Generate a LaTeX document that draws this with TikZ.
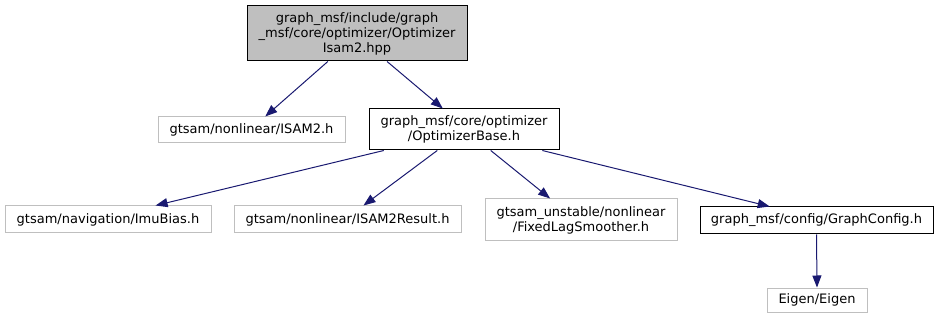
\documentclass[tikz,border=0pt]{standalone}
\usepackage{fontspec}
\setmainfont{DejaVu Sans}
\usetikzlibrary{calc,arrows.meta}
\definecolor{edgeblue}{HTML}{191970}
\definecolor{litegray}{HTML}{BFBFBF}
\definecolor{fillgray}{HTML}{BFBFBF}
\tikzset{
  file/.style={draw, line width=1pt, inner sep=0pt, align=center,
    font=\fontsize{13}{15}\selectfont},
  extfile/.style={file, draw=litegray},
  curfile/.style={file, draw=black, fill=fillgray},
  dep/.style={draw=edgeblue, line width=1pt,
    -{Triangle[length=12pt,width=9pt,fill=edgeblue]}},
}
\begin{document}
\begin{tikzpicture}[x=1pt,y=-1pt]
\useasboundingbox (0,0) rectangle (939,320);
\node[curfile, minimum width=220pt, minimum height=55pt] (top) at (357,33.5)
  {graph\_msf/include/graph\\\_msf/core/optimizer/Optimizer\\Isam2.hpp};
\node[extfile, minimum width=187pt, minimum height=26pt] (isam) at (251.5,130)
  {gtsam/nonlinear/ISAM2.h};
\node[file, minimum width=190pt, minimum height=41pt] (base) at (464,129.5)
  {graph\_msf/core/optimizer\\/OptimizerBase.h};
\node[extfile, minimum width=206pt, minimum height=27pt] (imu) at (108,219.5)
  {gtsam/navigation/ImuBias.h};
\node[extfile, minimum width=227pt, minimum height=27pt] (res) at (347.5,219.5)
  {gtsam/nonlinear/ISAM2Result.h};
\node[extfile, minimum width=192pt, minimum height=42pt] (fls) at (581,220)
  {gtsam\_unstable/nonlinear\\/FixedLagSmoother.h};
\node[file, minimum width=233pt, minimum height=27pt] (cfg) at (816.5,220.5)
  {graph\_msf/config/GraphConfig.h};
\node[extfile, minimum width=100pt, minimum height=24pt] (eig) at (817,300)
  {Eigen/Eigen};

\draw[dep] ($(top.south west)!0.368!(top.south east)$) -- ($(isam.north west)!0.573!(isam.north east)$);
\draw[dep] ($(top.south west)!0.636!(top.south east)$) -- ($(base.north west)!0.389!(base.north east)$);
\draw[dep] ($(base.south west)!0.08!(base.south east)$) -- ($(imu.north west)!0.73!(imu.north east)$);
\draw[dep] ($(base.south west)!0.36!(base.south east)$) -- ($(res.north west)!0.57!(res.north east)$);
\draw[dep] ($(base.south west)!0.64!(base.south east)$) -- ($(fls.north west)!0.34!(fls.north east)$);
\draw[dep] ($(base.south west)!0.91!(base.south east)$) -- ($(cfg.north west)!0.30!(cfg.north east)$);
\draw[dep] ($(cfg.south west)!0.50!(cfg.south east)$) -- (eig.north);
\end{tikzpicture}
\end{document}
